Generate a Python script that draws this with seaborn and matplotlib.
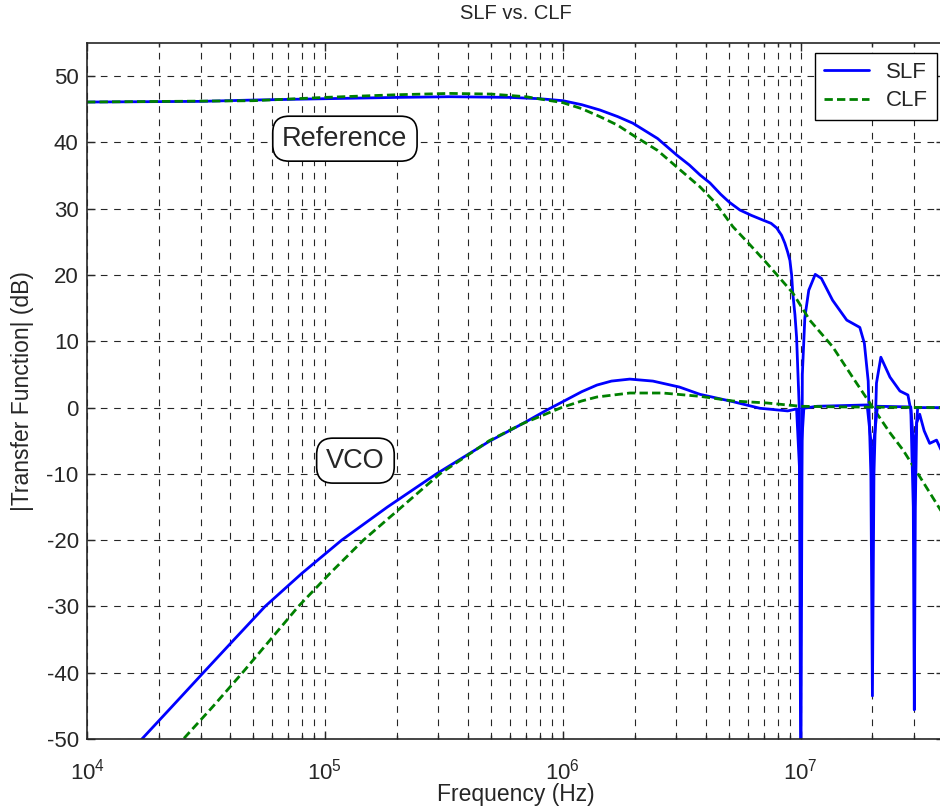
import numpy as np
import pandas as pd
import matplotlib
matplotlib.use('Agg')
import matplotlib.pyplot as plt
import seaborn as sns

# reference transfer function, SLF (with notches at 10, 20, 30 MHz)
ref_slf_f = [1e4, 3e4, 5e4, 1e5, 2e5, 3.35e5, 6e5, 8e5, 1e6, 1.2e6, 1.43e6, 1.7e6, 1.97e6,
             2.5e6, 3.01e6, 3.4e6, 3.77e6, 4.15e6, 4.6e6, 5.0e6, 5.55e6, 6.2e6, 6.92e6,
             7.5e6, 7.92e6, 8.3e6, 8.57e6, 8.8e6, 9.0e6, 9.15e6, 9.25e6, 9.45e6, 9.6e6,
             9.85e6, 1.0e7,
             1.015e7, 1.04e7, 1.08e7, 1.15e7, 1.22e7, 1.36e7, 1.56e7, 1.77e7, 1.85e7,
             1.92e7, 1.97e7, 2.0e7, 2.03e7, 2.08e7, 2.17e7, 2.37e7, 2.61e7, 2.82e7,
             2.9e7, 2.97e7, 3.0e7, 3.03e7, 3.07e7, 3.16e7, 3.3e7, 3.48e7, 3.72e7, 3.9e7]
ref_slf_db = [46.1, 46.2, 46.4, 46.6, 46.8, 46.9, 46.8, 46.6, 46.3, 45.7, 44.9, 43.9, 42.9,
              40.6, 38.1, 36.6, 35.1, 33.9, 32.2, 31.0, 29.8, 29.0, 28.3,
              27.8, 27.1, 26.0, 24.8, 23.5, 22.2, 20.0, 17.3, 14.0, 10.6,
              0.0, -60.0,
              5.0, 13.6, 17.7, 20.1, 19.5, 16.2, 13.2, 12.1, 9.7,
              4.0, -10.0, -43.5, -10.0, 3.7, 7.6, 4.6, 2.5, 1.9,
              -0.4, -15.0, -45.6, -15.0, -2.3, -1.0, -3.5, -5.4, -4.9, -6.5]

# reference transfer function, CLF
ref_clf_f = [1e4, 5e4, 1e5, 2e5, 3.35e5, 5e5, 7e5, 1e6, 1.2e6, 1.43e6, 1.7e6, 1.97e6,
             2.5e6, 3.01e6, 3.77e6, 4.4e6, 5.18e6, 6.1e6, 7.19e6, 9.25e6, 1.09e7,
             1.36e7, 1.65e7, 2.0e7, 2.37e7, 2.69e7, 3.0e7, 4.0e7]
ref_clf_db = [46.1, 46.3, 46.8, 47.2, 47.4, 47.3, 46.9, 46.0, 45.1, 43.9, 42.6, 41.1,
              38.8, 36.3, 33.3, 30.8, 27.3, 24.6, 21.8, 17.3, 13.2,
              9.2, 4.6, 0.1, -3.8, -6.4, -9.1, -16.3]

# VCO transfer function, SLF
vco_slf_f = [1.6e4, 1.7e4, 2.29e4, 3.08e4, 4.15e4, 5.6e4, 8.0e4, 1.175e5, 1.83e5,
             2.94e5, 4.9e5, 6.79e5, 8.53e5, 1e6, 1.2e6, 1.39e6, 1.6e6, 1.91e6, 2.39e6,
             3.09e6, 3.77e6, 5.18e6, 6.73e6, 8.81e6, 9.6e6, 9.9e6, 1.0e7, 1.01e7, 1.03e7,
             1.17e7, 1.9e7, 1.97e7, 2.0e7, 2.03e7, 2.1e7, 2.9e7, 2.97e7, 3.0e7, 3.03e7,
             3.1e7, 4.0e7]
vco_slf_db = [-52.0, -50.0, -45.0, -40.0, -35.0, -30.0, -25.0, -20.0, -15.0,
              -10.0, -5.1, -2.4, -0.4, 0.9, 2.4, 3.4, 4.0, 4.3, 4.0,
              3.1, 2.0, 0.9, -0.1, -0.5, -0.2, -10.0, -30.0, -5.0, -0.1,
              0.2, 0.4, -5.0, -15.0, -5.0, 0.2, 0.1, -5.0, -20.0, -5.0,
              0.0, 0.0]

# VCO transfer function, CLF
vco_clf_f = [2.4e4, 2.54e4, 3.4e4, 4.5e4, 5.9e4, 7.73e4, 1.05e5, 1.45e5, 2.1e5, 3.04e5,
             4.9e5, 6.79e5, 9.86e5, 1.2e6, 1.39e6, 1.91e6, 2.63e6, 3.77e6, 5.18e6,
             7.19e6, 1e7, 1.5e7, 4.0e7]
vco_clf_db = [-51.5, -50.0, -45.0, -40.0, -35.0, -30.0, -25.0, -20.0, -15.0, -10.0,
              -5.0, -2.4, 0.0, 1.0, 1.6, 2.2, 2.2, 1.7, 1.0,
              0.7, 0.2, 0.1, 0.0]

sns.set_style('ticks')
plt.rcParams.update({'font.family': ['Liberation Sans', 'DejaVu Sans'], 'font.size': 16,
                     'axes.unicode_minus': False})

fig = plt.figure(figsize=(9.4, 8.09), dpi=100)
ax = fig.add_axes([0.0926, 0.0865, 0.9117, 0.8603])

blue = '#0000ff'
green = '#008000'
sns.lineplot(x=ref_slf_f, y=ref_slf_db, ax=ax, color=blue, lw=2.0, sort=False,
             estimator=None, label='SLF')
sns.lineplot(x=ref_clf_f, y=ref_clf_db, ax=ax, color=green, lw=2.0, sort=False,
             estimator=None, linestyle=(0, (3, 1.5)), label='CLF')
sns.lineplot(x=vco_slf_f, y=vco_slf_db, ax=ax, color=blue, lw=2.0, sort=False,
             estimator=None)
sns.lineplot(x=vco_clf_f, y=vco_clf_db, ax=ax, color=green, lw=2.0, sort=False,
             estimator=None, linestyle=(0, (3, 1.5)))

ax.set_xscale('log')
ax.set_xlim(1e4, 4e7)
ax.set_ylim(-50, 55)
ax.set_yticks(np.arange(-50, 51, 10))

# matlab style grid
ax.grid(True, which='major', linestyle=(0, (6, 6)), color='0.15', lw=0.8)
ax.grid(True, which='minor', axis='x', linestyle=(0, (6, 6)), color='0.15', lw=0.8)
ax.tick_params(which='both', direction='in', top=True, right=True, width=1)
ax.tick_params(which='major', length=6, labelsize=16)
ax.tick_params(which='minor', length=3)
ax.tick_params(axis='x', which='major', pad=14)
ax.tick_params(axis='y', which='major', pad=6)
for s in ax.spines.values():
    s.set_linewidth(1.2)

ax.set_title('SLF vs. CLF', fontsize=14.5, pad=17)
ax.set_xlabel('Frequency (Hz)', fontsize=16.5, labelpad=-1)
ax.set_ylabel('|Transfer Function| (dB)', fontsize=16.5, labelpad=9)

box = dict(boxstyle='round,pad=0.35,rounding_size=0.6', fc='white', ec='black', lw=1.2)
ax.text(1.213e5, 40.57, 'Reference', ha='center', va='center', fontsize=19.5, bbox=box)
ax.text(1.343e5, -8.0, 'VCO', ha='center', va='center', fontsize=19.5, bbox=box)

leg = ax.legend(loc='upper right', bbox_to_anchor=(0.992, 0.986), borderaxespad=0,
                fontsize=16, frameon=True, fancybox=False, edgecolor='black',
                framealpha=1, handlelength=2.0, borderpad=0.4, labelspacing=0.35)
leg.get_frame().set_linewidth(1.0)

fig.savefig('out.png', dpi=100)
